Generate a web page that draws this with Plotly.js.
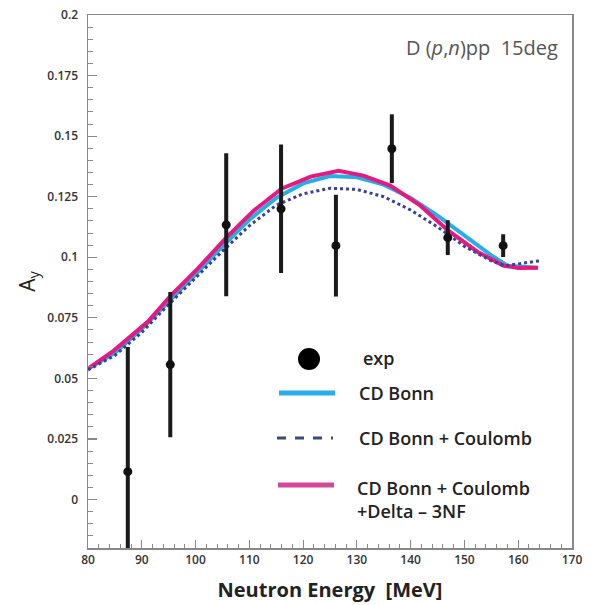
<!DOCTYPE html>
<html>
<head>
<meta charset="utf-8">
<script src="https://cdn.plot.ly/plotly-3.0.1.min.js"></script>
<style>html,body{margin:0;padding:0;background:#fff;}#chart{width:599px;height:605px;}</style>
</head>
<body>
<div id="chart"></div>
<script>
// Experimental points
const expEnergy = [87.4, 95.3, 105.7, 115.9, 126.1, 136.5, 146.9, 157.2];
const expAy     = [0.0115, 0.0557, 0.1134, 0.1200, 0.1048, 0.1448, 0.1081, 0.1048];
const expErr    = [0.0515, 0.0300, 0.0295, 0.0265, 0.0210, 0.0142, 0.0072, 0.0047];

// CD Bonn
const cdbEnergy = [80, 85, 90, 95, 100, 105, 110, 115, 120, 125, 130, 135, 140, 145, 150, 155, 158, 163.5];
const cdbAy     = [0.054, 0.0605, 0.0705, 0.0815, 0.093, 0.1045, 0.1155, 0.1245, 0.1305, 0.1335, 0.1330, 0.1300, 0.1245, 0.1172, 0.1088, 0.1008, 0.0965, 0.0957];

// CD Bonn + Coulomb
const cdbcEnergy = [80, 85, 90, 95, 100, 105, 110, 115, 120, 125, 130, 135, 140, 145, 150, 155, 157.5, 160.3, 164.2];
const cdbcAy     = [0.0535, 0.0595, 0.069, 0.0805, 0.0915, 0.1025, 0.113, 0.1215, 0.1262, 0.1285, 0.1280, 0.1250, 0.1195, 0.1125, 0.1045, 0.0985, 0.0965, 0.0974, 0.0986];

// CD Bonn + Coulomb + Delta - 3NF
const d3nfEnergy = [80, 84.8, 91.1, 95.4, 100.4, 105.9, 110.8, 116, 121.4, 126.6, 131.2, 136.2, 141.8, 147, 152.4, 157.2, 160, 163.7];
const d3nfAy     = [0.054, 0.0615, 0.0734, 0.0842, 0.0953, 0.1085, 0.1192, 0.1283, 0.1333, 0.1357, 0.1337, 0.1296, 0.1213, 0.111, 0.1023, 0.0966, 0.0956, 0.0957];

const xTickVals = [80, 90, 100, 110, 120, 130, 140, 150, 160, 170];
const yTickVals = [0, 0.025, 0.05, 0.075, 0.1, 0.125, 0.15, 0.175, 0.2];

const legendLabels = ["exp", "CD Bonn", "CD Bonn + Coulomb", "CD Bonn + Coulomb<br>+Delta \u2013 3NF"];
const panelLabel = "D (<i>p</i>,<i>n</i>)pp\u00a0\u00a015deg";

const cCyan = "#27aee6", cMag = "#e5197f", cNavy = "#3a3f98";

const traces = [
  {x: cdbEnergy, y: cdbAy, mode: "lines", line: {color: cCyan, width: 4}, showlegend: false},
  {x: d3nfEnergy, y: d3nfAy, mode: "lines", line: {color: cMag, width: 4}, showlegend: false},
  {x: cdbcEnergy, y: cdbcAy, mode: "lines", line: {color: cNavy, width: 3, dash: "dot"}, showlegend: false},
  {x: expEnergy, y: expAy, mode: "markers", marker: {color: "#111", size: 9},
   error_y: {type: "data", array: expErr, visible: true, width: 0, thickness: 4, color: "#1a1a1a"}, showlegend: false}
];

// pixel helpers for the hand-drawn legend (plot area 88..572 x, 15..548 y)
const L = 88, R = 572, T = 15, B = 548;
const px = v => (v - L) / (R - L);
const py = v => (B - v) / (B - T);

const FAM = "Open Sans, sans-serif";
const legFont = {family: FAM, size: 18, color: "#222", weight: 600};

const layout = {
  width: 599, height: 605,
  margin: {l: L, r: 599 - R, t: T, b: 605 - B},
  paper_bgcolor: "#fff", plot_bgcolor: "#fff",
  showlegend: false,
  xaxis: {
    range: [80, 170], tickvals: xTickVals, ticks: "inside", ticklen: 8, tickwidth: 1.2, tickcolor: "#888",
    minor: {dtick: 2, ticks: "inside", ticklen: 4, tickcolor: "#888", tickwidth: 1},
    showline: true, linecolor: "#888", linewidth: 1.5, mirror: true, showgrid: false, zeroline: false,
    tickfont: {family: FAM, size: 12, color: "#333", weight: 600},
    title: {text: "Neutron Energy\u00a0\u00a0[MeV]", font: {family: FAM, size: 20, color: "#222", weight: 700}, standoff: 16}
  },
  yaxis: {
    range: [-0.02, 0.2], tickvals: yTickVals, ticks: "inside", ticklen: 9, tickwidth: 1.2, tickcolor: "#888",
    minor: {dtick: 0.005, tick0: 0, ticks: "inside", ticklen: 5, tickcolor: "#888", tickwidth: 1},
    showline: true, linecolor: "#888", linewidth: 1.5, mirror: true, showgrid: false, zeroline: false,
    ticklabelstandoff: 6,
    tickfont: {family: FAM, size: 12, color: "#333", weight: 600},
    title: {text: "A<sub>y</sub>", font: {family: FAM, size: 21, color: "#222"}, standoff: 6}
  },
  shapes: [
    {type: "circle", xref: "paper", yref: "paper", x0: px(298), x1: px(320), y0: py(370), y1: py(348), fillcolor: "#000", line: {width: 0}},
    {type: "line", xref: "paper", yref: "paper", x0: px(279), x1: px(335), y0: py(393), y1: py(393), line: {color: cCyan, width: 5}},
    {type: "line", xref: "paper", yref: "paper", x0: px(277), x1: px(333), y0: py(438), y1: py(438), line: {color: "#3b4a7a", width: 3, dash: "dash"}},
    {type: "line", xref: "paper", yref: "paper", x0: px(278), x1: px(334), y0: py(485), y1: py(485), line: {color: "#d2479a", width: 5}}
  ],
  annotations: [
    {xref: "paper", yref: "paper", x: px(361), y: py(358), text: legendLabels[0], showarrow: false, xanchor: "left", yanchor: "middle", font: legFont},
    {xref: "paper", yref: "paper", x: px(357), y: py(393), text: legendLabels[1], showarrow: false, xanchor: "left", yanchor: "middle", font: legFont},
    {xref: "paper", yref: "paper", x: px(357), y: py(438), text: legendLabels[2], showarrow: false, xanchor: "left", yanchor: "middle", font: legFont},
    {xref: "paper", yref: "paper", x: px(355), y: py(499), text: legendLabels[3], showarrow: false, xanchor: "left", yanchor: "middle", align: "left", font: legFont},
    {xref: "paper", yref: "paper", x: px(560), y: py(47), text: panelLabel, showarrow: false, xanchor: "right", yanchor: "middle", font: {family: FAM, size: 20, color: "#555"}}
  ]
};

Plotly.newPlot("chart", traces, layout, {displayModeBar: false, staticPlot: true});
</script>
</body>
</html>
